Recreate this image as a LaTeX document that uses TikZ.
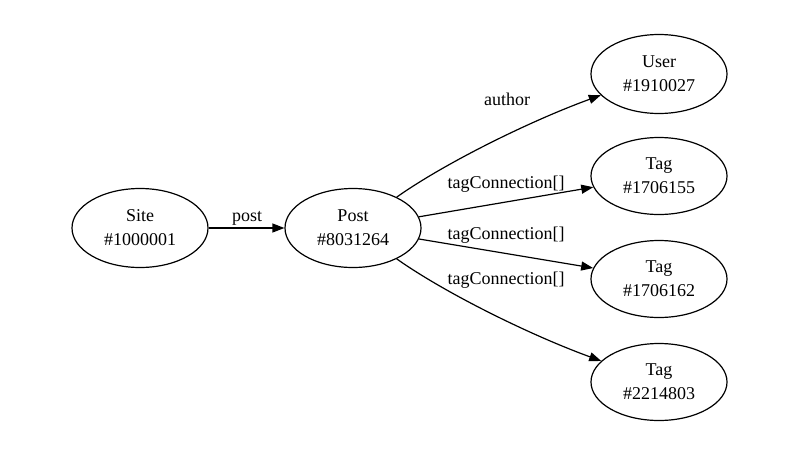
\documentclass[tikz,border=0pt]{standalone}
\usepackage{fontspec}
\setmainfont{Liberation Serif}
\usetikzlibrary{shapes.geometric,arrows.meta}

\begin{document}
\begin{tikzpicture}[x=1pt,y=-1pt,
	entity/.style={ellipse,draw,line width=1.2pt,minimum width=136pt,minimum height=79pt,
		align=center,inner sep=0pt,font=\fontsize{18}{24}\selectfont},
	link/.style={draw,line width=1.2pt,-{Triangle[length=12pt,width=9pt]}},
	linklabel/.style={font=\fontsize{18}{24}\selectfont,inner sep=0pt}]

	\useasboundingbox (0,0) rectangle (800,450);

	\node[entity] (site) at (140,228) {Site\\\#1000001};
	\node[entity] (post) at (353,228) {Post\\\#8031264};
	\node[entity] (user) at (659,74) {User\\\#1910027};
	\node[entity,minimum height=77pt] (tagA) at (659,176) {Tag\\\#1706155};
	\node[entity,minimum height=77pt] (tagB) at (659,279) {Tag\\\#1706162};
	\node[entity,minimum height=77pt] (tagC) at (659,382) {Tag\\\#2214803};

	\draw[link] (site) -- (post);
	\draw[link] (post) .. controls (445,163) and (530,121) .. (user);
	\draw[link] (post) -- (tagA);
	\draw[link] (post) -- (tagB);
	\draw[link] (post) .. controls (445,293) and (530,335) .. (tagC);

	\node[linklabel] (lpost) at (247,218) {post};
	\node[linklabel] (lauthor) at (507,99) {author};
	\node[linklabel] (ltagA) at (506,184) {tagConnection[]};
	\node[linklabel] (ltagB) at (506,235) {tagConnection[]};
	\node[linklabel] (ltagC) at (506,280) {tagConnection[]};

\end{tikzpicture}
\end{document}
